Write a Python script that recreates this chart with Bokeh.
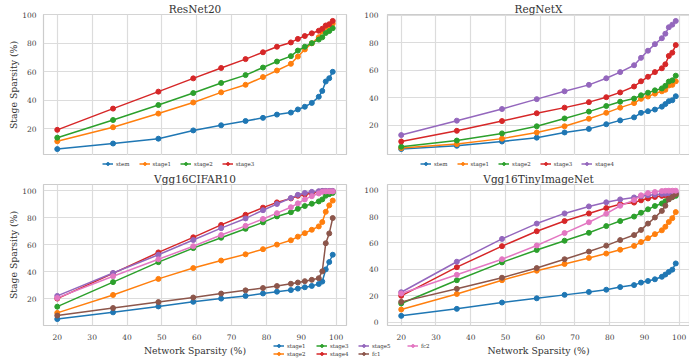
from bokeh.plotting import figure
from bokeh.layouts import column, row
from bokeh.models import FixedTicker, Range1d, Legend, LegendItem
from bokeh.embed import file_html
from bokeh.resources import INLINE

# ---------------- data ----------------
net_sparsity = [20, 36, 49, 59, 67, 74, 79, 83, 87, 89, 91, 93, 95, 96, 97, 98, 99]

resnet_names = ["stem", "stage1", "stage2", "stage3"]
resnet_stem = [5.8, 9.7, 13.1, 18.9, 22.5, 25.5, 27.7, 30.0, 31.4, 33.6, 35.5, 38.2, 42.5, 46.6, 53.2, 55.5, 60.0]
resnet_stage1 = [11.3, 21.1, 30.7, 38.5, 45.6, 50.9, 56.3, 60.9, 65.6, 70.7, 75.7, 80.0, 84.3, 88.4, 91.1, 92.3, 93.8]
resnet_stage2 = [13.8, 26.2, 36.7, 45.1, 52.2, 57.7, 63.0, 67.2, 71.0, 74.9, 77.6, 80.1, 82.6, 84.2, 87.2, 88.6, 90.6]
resnet_stage3 = [19.3, 34.2, 46.1, 55.4, 62.7, 68.9, 73.7, 77.6, 80.6, 83.1, 85.1, 87.0, 88.8, 90.2, 92.5, 93.4, 95.7]

regnet_names = ["stem", "stage1", "stage2", "stage3", "stage4"]
regnet_stem = [2.6, 5.0, 8.1, 10.9, 14.7, 17.3, 20.7, 23.5, 25.7, 29.0, 30.2, 31.4, 33.5, 35.4, 37.5, 38.2, 41.1]
regnet_stage1 = [3.3, 6.2, 10.2, 14.7, 19.2, 24.7, 29.0, 32.8, 36.1, 39.2, 40.9, 43.0, 44.7, 45.8, 48.9, 49.4, 52.0]
regnet_stage2 = [4.3, 8.8, 14.0, 19.2, 24.9, 29.9, 34.0, 37.1, 39.4, 41.8, 43.7, 45.4, 46.8, 48.7, 51.8, 52.7, 56.1]
regnet_stage3 = [8.1, 15.9, 23.0, 28.7, 32.8, 36.8, 40.4, 43.9, 48.2, 52.0, 55.3, 58.7, 61.5, 64.4, 70.5, 72.9, 78.4]
regnet_stage4 = [12.8, 23.3, 31.8, 39.0, 44.7, 49.4, 54.2, 58.7, 63.7, 69.1, 74.3, 79.1, 83.4, 86.7, 91.4, 93.3, 96.0]

vgg_names = ["stage1", "stage2", "stage3", "stage4", "stage5", "fc1", "fc2"]
cifar_stage1 = [5.0, 10.0, 14.4, 17.8, 20.2, 22.2, 24.0, 25.3, 26.5, 27.6, 28.6, 29.6, 31.0, 32.8, 41.8, 47.3, 52.7]
cifar_stage2 = [9.6, 22.9, 34.8, 42.8, 48.4, 53.0, 56.8, 60.2, 63.4, 66.1, 68.7, 71.2, 73.7, 76.9, 84.5, 89.3, 92.8]
cifar_stage3 = [14.2, 32.4, 47.2, 57.6, 65.3, 71.9, 76.7, 81.1, 84.2, 86.7, 88.8, 90.5, 92.2, 93.7, 96.4, 97.6, 98.5]
cifar_stage4 = [20.2, 38.9, 54.4, 65.6, 74.8, 82.3, 87.6, 91.5, 94.4, 96.4, 97.3, 98.3, 99.3, 99.8, 99.8, 99.8, 99.8]
cifar_stage5 = [22.2, 39.2, 52.7, 63.6, 72.4, 79.6, 85.7, 90.3, 94.7, 97.1, 98.5, 99.3, 99.8, 100.0, 100.0, 100.0, 100.0]
cifar_fc1 = [7.6, 13.2, 17.6, 21.0, 23.9, 26.3, 28.0, 29.5, 31.2, 32.1, 33.1, 34.1, 35.3, 40.4, 61.2, 68.5, 79.9]
cifar_fc2 = [20.7, 36.7, 49.3, 59.0, 67.3, 74.1, 79.2, 83.5, 87.9, 90.8, 93.7, 96.1, 98.1, 99.3, 99.6, 99.6, 99.6]

tiny_stage1 = [4.8, 10.1, 14.9, 18.1, 20.7, 22.9, 24.6, 26.6, 28.1, 30.0, 31.2, 32.5, 34.4, 36.1, 38.1, 39.8, 44.5]
tiny_stage2 = [9.6, 21.4, 31.8, 39.0, 44.1, 48.7, 52.0, 54.9, 57.8, 60.7, 63.6, 66.7, 69.6, 72.3, 75.9, 78.8, 83.4]
tiny_stage3 = [14.2, 31.8, 45.3, 54.7, 61.7, 67.7, 72.8, 76.6, 80.0, 82.9, 85.5, 88.0, 89.9, 91.6, 93.5, 94.7, 95.7]
tiny_stage4 = [20.0, 41.7, 57.6, 68.9, 76.6, 82.4, 86.5, 89.4, 90.6, 92.3, 93.7, 94.9, 95.7, 96.1, 96.4, 96.9, 97.3]
tiny_stage5 = [22.7, 45.8, 63.1, 74.7, 82.4, 87.7, 90.8, 93.0, 94.5, 95.4, 96.1, 96.6, 97.1, 97.3, 97.6, 97.8, 98.1]
tiny_fc1 = [15.4, 25.3, 33.7, 41.0, 47.7, 53.5, 58.0, 62.2, 66.0, 69.9, 74.7, 79.3, 84.3, 88.2, 93.0, 94.9, 96.9]
tiny_fc2 = [21.7, 35.9, 47.7, 58.1, 67.5, 75.7, 82.2, 88.2, 92.5, 96.1, 97.8, 98.6, 99.3, 99.5, 99.6, 99.6, 99.6]

x_ticks = [20, 30, 40, 50, 60, 70, 80, 90, 100]
y_ticks = [20, 40, 60, 80, 100]
y_ticks_tiny = [0, 20, 40, 60, 80, 100]

palette = ["#1f77b4", "#ff7f0e", "#2ca02c", "#d62728", "#9467bd", "#8c564b", "#e377c2"]

FONT = "DejaVu Serif"
GRID = "#dcdcdc"
EDGE = "#cccccc"


def make_fig(title, series, names, y_range, yticks, left, show_xaxis, frame_h, top_b):
    p = figure(
        output_backend="svg", toolbar_location=None,
        frame_width=303 if left else 302, frame_height=frame_h,
        x_range=Range1d(16.05, 102.95), y_range=Range1d(*y_range),
        min_border_left=0 if left else 18, min_border_right=15 if left else 3,
        min_border_top=top_b, min_border_bottom=25 if show_xaxis else 0,
        background_fill_color="white", border_fill_color="white",
    )
    if left:
        p.margin = (0, 0, 0, 5)
    p.title.text = title
    p.title.align = "center"
    p.title.text_font = FONT
    p.title.text_font_size = "10.5px"
    p.title.text_font_style = "normal"
    p.title.text_color = "#333333"
    p.title.standoff = 0
    p.title.offset = 0

    p.outline_line_color = EDGE
    p.outline_line_width = 1.2

    p.xaxis.ticker = FixedTicker(ticks=x_ticks)
    p.yaxis.ticker = FixedTicker(ticks=yticks)
    p.xgrid.ticker = FixedTicker(ticks=x_ticks)
    p.ygrid.ticker = FixedTicker(ticks=yticks)
    for g in (p.xgrid, p.ygrid):
        g.grid_line_color = GRID
        g.grid_line_width = 1.2

    for ax in (p.xaxis, p.yaxis):
        ax.axis_line_color = None
        ax.major_tick_line_color = None
        ax.minor_tick_line_color = None
        ax.major_label_text_font = FONT
        ax.major_label_text_font_size = "7.5px"
        ax.major_label_text_color = "#444444"
        ax.axis_label_text_font = FONT
        ax.axis_label_text_font_size = "9.3px"
        ax.axis_label_text_font_style = "normal"
        ax.axis_label_text_color = "#333333"
        ax.major_label_standoff = 3
        ax.axis_label_standoff = 2

    if show_xaxis:
        p.xaxis.axis_label = "Network Sparsity (%)"
        p.xaxis.major_label_standoff = 2
    else:
        p.xaxis.visible = False
    if left:
        p.yaxis.axis_label = "Stage Sparsity (%)"
        p.yaxis.major_label_standoff = 1
        p.yaxis.axis_label_standoff = 0

    for i, (name, ys) in enumerate(zip(names, series)):
        c = palette[i]
        p.line(net_sparsity, ys, line_color=c, line_width=1.5)
        p.scatter(net_sparsity, ys, marker="circle", size=5, fill_color=c, line_color=c)
    return p


def legend_fig(width, height, groups, margin=None):
    """A small canvas carrying only legend entries (one Legend per group).
    Its renderers hold the real series, but its x range lies outside the data,
    so only the legend swatches show."""
    lf = figure(output_backend="svg", toolbar_location=None, width=width, height=height,
                x_range=Range1d(0, 1), y_range=Range1d(0, 1), min_border=0,
                background_fill_alpha=0, border_fill_alpha=0)
    lf.axis.visible = False
    lf.grid.visible = False
    lf.outline_line_color = None
    if margin is not None:
        lf.margin = margin
    for names, colors, series, loc, orient in groups:
        items = []
        for n, c, ys in zip(names, colors, series):
            lr = lf.line(net_sparsity, ys, line_color=c, line_width=1.5)
            sr = lf.scatter(net_sparsity, ys, marker="circle", size=4, fill_color=c, line_color=c)
            items.append(LegendItem(label=n, renderers=[lr, sr]))
        lg = Legend(items=items, location=loc, orientation=orient)
        lg.label_text_font = FONT
        lg.label_text_font_size = "5.5px"
        lg.label_text_color = "#333333"
        lg.label_height = 7
        lg.label_width = 5
        lg.label_standoff = 3
        lg.glyph_width = 11
        lg.glyph_height = 7
        lg.spacing = 9 if orient == "horizontal" else 1
        lg.padding = 0
        lg.margin = 0
        lg.border_line_color = None
        lg.background_fill_alpha = 0
        lf.add_layout(lg, "center")
    return lf


resnet_series = [resnet_stem, resnet_stage1, resnet_stage2, resnet_stage3]
regnet_series = [regnet_stem, regnet_stage1, regnet_stage2, regnet_stage3, regnet_stage4]
cifar_series = [cifar_stage1, cifar_stage2, cifar_stage3, cifar_stage4, cifar_stage5, cifar_fc1, cifar_fc2]
tiny_series = [tiny_stage1, tiny_stage2, tiny_stage3, tiny_stage4, tiny_stage5, tiny_fc1, tiny_fc2]

p1 = make_fig("ResNet20", resnet_series, resnet_names, (1.3, 100.2), y_ticks, True, False, 141, 13)
p2 = make_fig("RegNetX", regnet_series, regnet_names, (-2.1, 100.7), y_ticks, False, False, 141, 13)
p3 = make_fig("Vgg16CIFAR10", cifar_series, vgg_names, (0.25, 104.75), y_ticks, True, True, 141, 13)
p4 = make_fig("Vgg16TinyImageNet", tiny_series, vgg_names, (-2.5, 104.3), y_ticks_tiny, False, True, 141, 13)

leg_top_left = legend_fig(350, 15, [(resnet_names, palette[:4], resnet_series, (102, 3), "horizontal")])
leg_top_right = legend_fig(323, 15, [(regnet_names, palette[:5], regnet_series, (70, 3), "horizontal")])
leg_bottom = legend_fig(175, 17, [
    (vgg_names[0:2], palette[0:2], tiny_series[0:2], (6, 1), "vertical"),
    (vgg_names[2:4], palette[2:4], tiny_series[2:4], (49, 1), "vertical"),
    (vgg_names[4:6], palette[4:6], tiny_series[4:6], (91, 1), "vertical"),
    (vgg_names[6:7], palette[6:7], tiny_series[6:7], (140, 9), "vertical"),
], margin=(-17, 0, 0, 267))

layout = column(
    row(p1, p2, spacing=0),
    row(leg_top_left, leg_top_right, spacing=0),
    row(p3, p4, spacing=0),
    leg_bottom,
    spacing=0,
)

open("out.html", "w").write(file_html(layout, INLINE))
